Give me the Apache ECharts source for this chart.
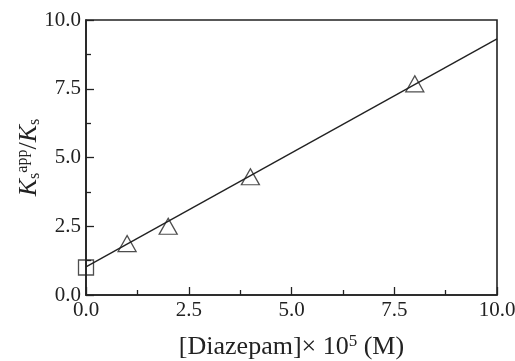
<!DOCTYPE html>
<html>
<head>
<meta charset="utf-8">
<script src="https://cdn.jsdelivr.net/npm/echarts@6/dist/echarts.min.js"></script>
<style>
  html, body {margin: 0; padding: 0; background: #fff;}
  #chart {width: 515px; height: 361px;}
</style>
</head>
<body>
<div id="chart"></div>
<script>
const controlPoint = [[0, 1.0]];
const diazepamPoints = [[1, 1.87], [2, 2.5], [4, 4.3], [8, 7.68]];
const fitLine = [[0, 1.02], [10, 9.31]];
const xTicks = [0, 2.5, 5, 7.5, 10];
const yTicks = [0, 2.5, 5, 7.5, 10];

const font = "'Liberation Serif', serif";
const ink = '#222';
const chart = echarts.init(document.getElementById('chart'));

const axisCommon = {
  min: 0,
  max: 10,
  interval: 2.5,
  axisLine: {show: true, onZero: false, lineStyle: {color: ink, width: 1.6}},
  axisTick: {show: true, inside: true, length: 8, lineStyle: {color: ink, width: 1.3}},
  minorTick: {show: true, splitNumber: 2, length: 5, lineStyle: {color: ink, width: 1.3}},
  splitLine: {show: false},
  axisLabel: {
    color: ink,
    fontFamily: font,
    fontSize: 21,
    formatter: v => xTicks.includes(v) ? v.toFixed(1) : ''
  }
};

chart.setOption({
  animation: false,
  grid: {
    left: 86, right: 18, top: 20, bottom: 66,
    containLabel: false, outerBoundsMode: 'none',
    show: true, borderColor: ink, borderWidth: 1.6
  },
  xAxis: {
    ...axisCommon,
    type: 'value',
    axisLabel: {...axisCommon.axisLabel, margin: 5},
    name: '[Diazepam]× 10{sup|5} (M)',
    nameLocation: 'middle',
    nameGap: 38,
    nameTextStyle: {
      color: ink, fontFamily: font, fontSize: 26,
      rich: {sup: {fontSize: 17, fontFamily: font, color: ink, padding: [0, 0, 12, 0]}}
    }
  },
  yAxis: {
    ...axisCommon,
    type: 'value',
    axisLabel: {...axisCommon.axisLabel, margin: 5, formatter: v => yTicks.includes(v) ? v.toFixed(1) : ''},
    name: '{k|K}{sub|s}{sup|app}{n|/}{k|K}{sub|s}',
    nameLocation: 'middle',
    nameRotate: 90,
    nameGap: 43,
    nameMoveOverlap: false,
    nameTextStyle: {
      color: ink, fontFamily: font, fontSize: 25,
      rich: {
        k: {fontSize: 26, fontStyle: 'italic', fontFamily: font, color: ink},
        n: {fontSize: 26, fontFamily: font, color: ink},
        sub: {fontSize: 16, fontFamily: font, color: ink, padding: [12, 0, 0, 0]},
        sup: {fontSize: 16, fontFamily: font, color: ink, padding: [0, 0, 12, 0]}
      }
    }
  },
  series: [
    {
      type: 'line',
      data: fitLine,
      symbol: 'none',
      lineStyle: {color: ink, width: 1.4},
      z: 1
    },
    {
      type: 'scatter',
      data: controlPoint,
      symbol: 'rect',
      symbolSize: 15,
      itemStyle: {color: 'rgba(255,255,255,0)', borderColor: ink, borderWidth: 1.3},
      z: 3
    },
    {
      type: 'scatter',
      data: diazepamPoints,
      symbol: 'triangle',
      symbolSize: [18, 16],
      itemStyle: {color: 'rgba(255,255,255,0)', borderColor: ink, borderWidth: 1.3},
      z: 3
    }
  ]
});
</script>
</body>
</html>
